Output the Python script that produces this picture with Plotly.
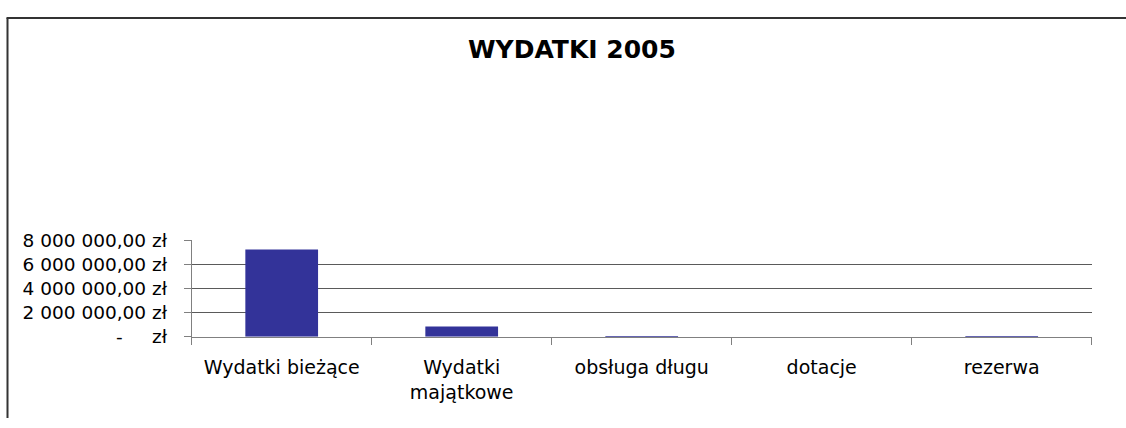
import plotly.graph_objects as go

categories = ["Wydatki bieżące", "Wydatki majątkowe", "obsługa długu", "dotacje", "rezerwa"]
category_labels = ["Wydatki bieżące", "Wydatki<br>majątkowe", "obsługa długu", "dotacje", "rezerwa"]
values = [7240000, 850000, 60000, 0, 40000]
y_tick_values = [0, 2000000, 4000000, 6000000, 8000000]
y_tick_labels = ["-" + "\u00a0" * 5 + "zł", "2 000 000,00 zł", "4 000 000,00 zł",
                 "6 000 000,00 zł", "8 000 000,00 zł"]
title_text = "WYDATKI 2005"

W, H = 1126, 428
FONT = "DejaVu Sans, Arial, sans-serif"
Y_MAX = 8000000 * 1.003  # tiny headroom so the top gridline is drawn

plot_bottom, plot_top_8m = 342.7, 241.5
px_per_unit = (plot_bottom - plot_top_8m) / 8000000
plot_top = plot_bottom - Y_MAX * px_per_unit

fig = go.Figure(go.Bar(
    x=categories, y=values, marker=dict(color="#333399", line=dict(width=0)),
    width=0.404, hoverinfo="skip",
))

fig.update_layout(
    width=W, height=H, autosize=False,
    margin=dict(l=0, r=0, t=0, b=0),
    paper_bgcolor="white", plot_bgcolor="white",
    showlegend=False,
    font=dict(family=FONT, color="black", size=18),
    xaxis=dict(
        domain=[191.7 / W, 1091.7 / W],
        type="category",
        tickvals=categories, ticktext=category_labels,
        tickson="boundaries", ticks="outside", ticklen=7, tickcolor="#808080",
        showline=True, linecolor="#808080", linewidth=1,
        showgrid=False,
        ticklabelstandoff=14,
        tickfont=dict(family=FONT, size=19, color="black"),
    ),
    yaxis=dict(
        domain=[(H - plot_bottom) / H, (H - plot_top) / H],
        range=[0, Y_MAX],
        tickvals=y_tick_values, ticktext=y_tick_labels,
        ticks="outside", ticklen=7, tickcolor="#808080",
        showline=True, linecolor="#808080", linewidth=1,
        showgrid=True, gridcolor="#5a5a5a", gridwidth=1,
        zeroline=False,
        ticklabelstandoff=13,
        tickfont=dict(family=FONT, size=18.5, color="black"),
    ),
    annotations=[dict(
        text="<b>" + title_text + "</b>", xref="paper", yref="paper",
        x=571.5 / W, y=(H - 41) / H, xanchor="center", yanchor="middle",
        showarrow=False, font=dict(family=FONT, size=25, color="black"),
    )],
    shapes=[
        dict(type="line", xref="paper", yref="paper", x0=6.5 / W, x1=1.0,
             y0=(H - 8.5) / H, y1=(H - 8.5) / H, line=dict(color="#333333", width=2)),
        dict(type="line", xref="paper", yref="paper", x0=7.5 / W, x1=7.5 / W,
             y0=0, y1=(H - 8.5) / H, line=dict(color="#333333", width=2)),
    ],
)

post = ("document.body.style.margin='0';document.body.style.overflow='hidden';"
        "var g=document.getElementById('{plot_id}');"
        "g.style.position='fixed';g.style.left='0px';g.style.top='0px';")

fig.write_html("out.html", config={"displayModeBar": False}, post_script=post)
